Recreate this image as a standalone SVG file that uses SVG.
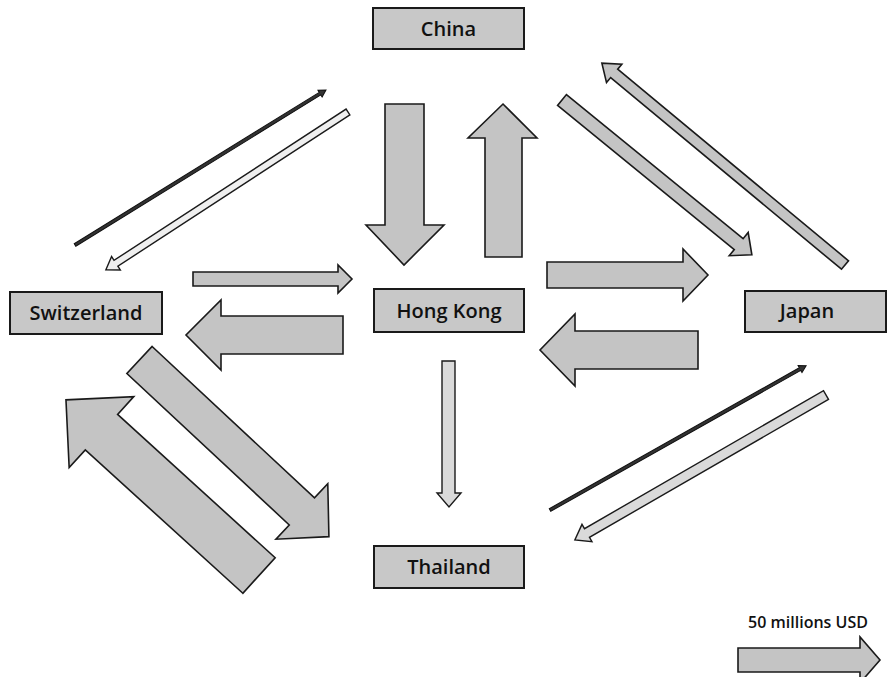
<svg xmlns="http://www.w3.org/2000/svg" width="887" height="677" viewBox="0 0 887 677">
<style>
.box{fill:#c8c8c8;stroke:#1a1a1a;stroke-width:2}
.lbl{font-family:"Open Sans","Liberation Sans",sans-serif;font-size:20px;font-weight:600;fill:#111;text-anchor:middle}
.arr{fill:#c4c4c4;stroke:#1a1a1a;stroke-width:1.6;stroke-linejoin:miter}
.thinw{fill:#efefef;stroke:#1a1a1a;stroke-width:1.4}
.thinl{fill:#dadada;stroke:#1a1a1a;stroke-width:1.4}
.dark{fill:#333;stroke:#111;stroke-width:1}
</style>
<rect width="887" height="677" fill="#ffffff"/>
<g id="connectors">
  <!-- China -> Hong Kong -->
  <polygon class="arr" points="385,104 424,104 424,225 444,225 404,265 366,225 385,225"/>
  <!-- Hong Kong -> China -->
  <polygon class="arr" points="485,257 522,257 522,138 537,138 503,104 468,138 485,138"/>
  <!-- Switzerland -> Hong Kong -->
  <polygon class="arr" points="193,272 338,272 338,265 352,279 338,293 338,286 193,286"/>
  <!-- Hong Kong -> Switzerland -->
  <polygon class="arr" points="343,316 221,316 221,300 186,335 221,370 221,354 343,354"/>
  <!-- Hong Kong -> Japan -->
  <polygon class="arr" points="547,262 683,262 683,249 708,275 683,301 683,288 547,288"/>
  <!-- Japan -> Hong Kong -->
  <polygon class="arr" points="698,331 575,331 575,314 540,350 575,386 575,369 698,369"/>
  <!-- Hong Kong -> Thailand -->
  <polygon class="thinl" points="442,361 455,361 455,493 461,493 449,507 437,493 442,493"/>
  <!-- China -> Japan -->
  <polygon class="arr" transform="translate(562,100) rotate(39.2)" points="0,-7 228,-7 228,-15 245,0 228,15 228,7 0,7"/>
  <!-- Japan -> China -->
  <polygon class="arr" transform="translate(845,265) rotate(-140.3)" points="0,-5.5 300,-5.5 300,-12 316,0 300,12 300,5.5 0,5.5"/>
  <!-- Switzerland -> China -->
  <polygon class="dark" transform="translate(75,245) rotate(-31.7)" points="0,-1.5 288,-1.5 288,-4 295,0 288,4 288,1.5 0,1.5"/>
  <!-- China -> Switzerland -->
  <polygon class="thinw" transform="translate(348,112) rotate(146.9)" points="0,-3.5 277,-3.5 277,-8 289,0 277,8 277,3.5 0,3.5"/>
  <!-- Thailand -> Japan -->
  <polygon class="dark" transform="translate(550,510) rotate(-29.4)" points="0,-1.5 287,-1.5 287,-4 294,0 287,4 287,1.5 0,1.5"/>
  <!-- Japan -> Thailand -->
  <polygon class="thinl" transform="translate(826,395) rotate(150)" points="0,-5 276,-5 276,-10 290,0 276,10 276,5 0,5"/>
  <!-- Switzerland -> Thailand -->
  <polygon class="arr" transform="translate(139.5,360) rotate(43)" points="0,-18.5 222,-18.5 222,-38 259,0 222,38 222,18.5 0,18.5"/>
  <!-- Thailand -> Switzerland -->
  <polygon class="arr" transform="translate(259,575.5) rotate(-137.7)" points="0,-24 213,-24 213,-48 261,0 213,48 213,24 0,24"/>
</g>
<g id="china">
  <rect class="box" x="373" y="8" width="151" height="41"/>
  <text class="lbl" x="448.5" y="36">China</text>
</g>
<g id="switzerland">
  <rect class="box" x="10" y="292" width="152" height="42"/>
  <text class="lbl" x="86" y="320">Switzerland</text>
</g>
<g id="hongkong">
  <rect class="box" x="374" y="289" width="150" height="43"/>
  <text class="lbl" x="449" y="318">Hong Kong</text>
</g>
<g id="japan">
  <rect class="box" x="745" y="291" width="141" height="41"/>
  <text class="lbl" x="807" y="318">Japan</text>
</g>
<g id="thailand">
  <rect class="box" x="374" y="546" width="150" height="42"/>
  <text class="lbl" x="449" y="574">Thailand</text>
</g>
<g id="legend">
  <text x="808" y="628" font-family="'Open Sans','Liberation Sans',sans-serif" font-size="16" font-weight="600" fill="#111" text-anchor="middle">50 millions USD</text>
  <polygon class="arr" points="738,648 860,648 860,637 880,660 860,683 860,672 738,672"/>
</g>
</svg>
